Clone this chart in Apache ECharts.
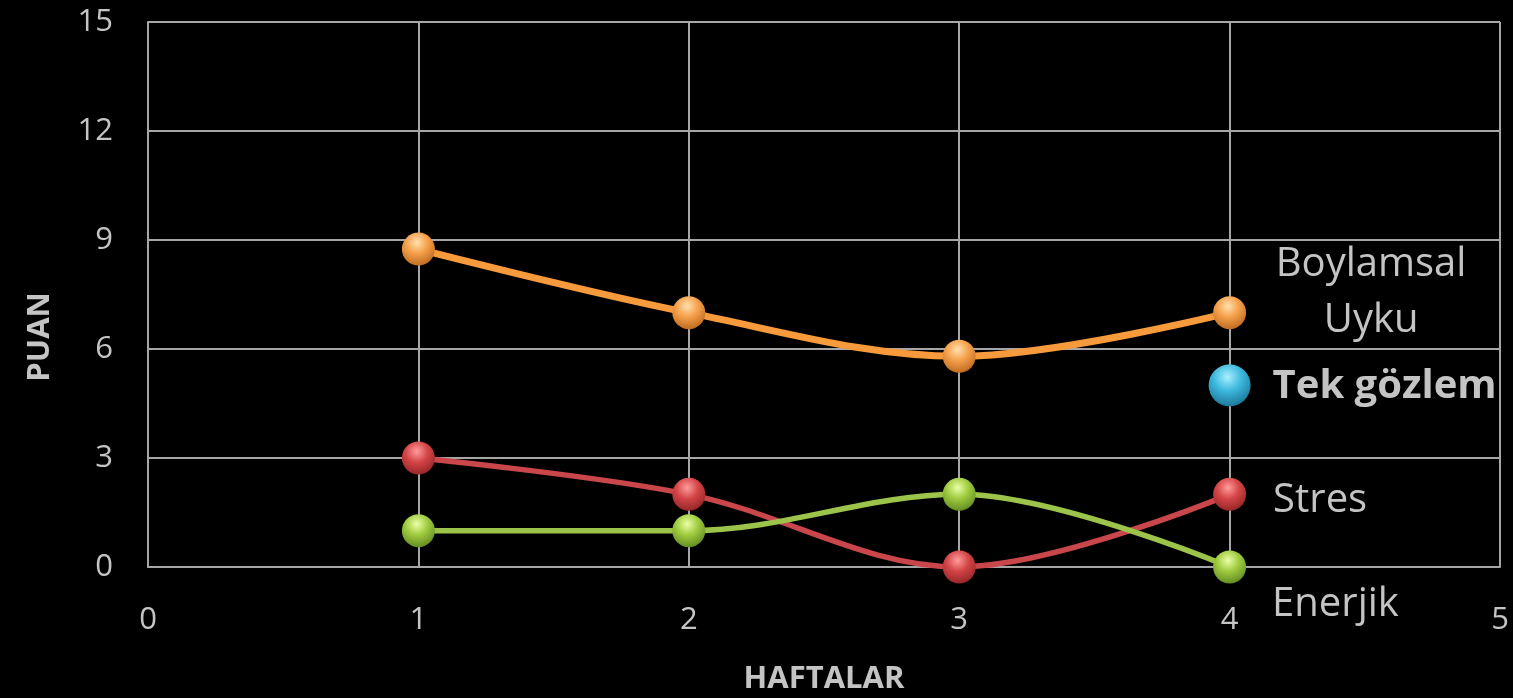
<!DOCTYPE html>
<html>
<head>
<meta charset="utf-8">
<script src="https://cdn.jsdelivr.net/npm/echarts@6/dist/echarts.min.js"></script>
<style>
html,body{margin:0;padding:0;background:#000;}
#c{width:1513px;height:698px;}
</style>
</head>
<body>
<div id="c"></div>
<script>
const weeks = [1, 2, 3, 4];
const uyku = [8.75, 7, 5.8, 7];
const stres = [3, 2, 0, 2];
const enerjik = [1, 1, 2, 0];
const tekGozlemWeek = [4];
const tekGozlem = [5];
const xTicks = [0, 1, 2, 3, 4, 5];
const yTicks = [0, 3, 6, 9, 12, 15];
const names = { uyku: 'Boylamsal\nUyku', tek: 'Tek gözlem', stres: 'Stres', enerjik: 'Enerjik' };

function sphere(light, base, dark) {
  return {
    type: 'radial', x: 0.45, y: 0.3, r: 0.75,
    colorStops: [
      { offset: 0, color: light },
      { offset: 0.45, color: base },
      { offset: 1, color: dark }
    ]
  };
}
function pairs(xs, ys) { return xs.map((x, i) => [x, ys[i]]); }

const FONT = '"Open Sans", "DejaVu Sans", sans-serif';
const TXT = '#c4c4c4';
const GRIDC = '#a6a6a6';

function lastLabel(text, opts, bold) {
  return Object.assign({
    show: true,
    formatter: text,
    color: TXT,
    fontFamily: FONT,
    fontSize: 40,
    fontWeight: bold ? 'bold' : 'normal'
  }, opts);
}

function lineSeries(name, data, color, sphereCols, width, label) {
  return {
    name: name,
    type: 'line',
    smooth: 0.35,
    data: pairs(weeks, data).map((p, i) => i === data.length - 1 ? { value: p, label: label } : p),
    symbol: 'circle',
    symbolSize: 33,
    lineStyle: { color: color, width: width },
    itemStyle: { color: sphereCols },
    label: { show: false },
    z: 3
  };
}

const chart = echarts.init(document.getElementById('c'));
chart.setOption({
  backgroundColor: '#000',
  animation: false,
  grid: { left: 148, right: 13, top: 22, bottom: 131, containLabel: false, outerBoundsMode: 'none' },
  xAxis: {
    type: 'value', min: 0, max: 5, interval: 1,
    name: 'HAFTALAR', nameLocation: 'middle', nameGap: 97,
    nameTextStyle: { color: TXT, fontFamily: FONT, fontSize: 31, fontWeight: 'bold' },
    axisLine: { show: true, lineStyle: { color: GRIDC, width: 2 } },
    axisTick: { show: false },
    axisLabel: { color: TXT, fontFamily: FONT, fontSize: 31, margin: 38,
      formatter: v => xTicks.includes(v) ? String(v) : '' },
    splitLine: { show: true, lineStyle: { color: GRIDC, width: 2 } }
  },
  yAxis: {
    type: 'value', min: 0, max: 15, interval: 3,
    axisLine: { show: true, lineStyle: { color: GRIDC, width: 2 } },
    axisTick: { show: false },
    axisLabel: { color: TXT, fontFamily: FONT, fontSize: 31, margin: 35,
      formatter: v => yTicks.includes(v) ? String(v) : '' },
    splitLine: { show: true, lineStyle: { color: GRIDC, width: 2 } }
  },
  graphic: [{
    type: 'text', x: 40, y: 337, rotation: Math.PI / 2,
    style: { text: 'PUAN', fill: TXT, font: 'bold 31px ' + FONT, textAlign: 'center', textVerticalAlign: 'middle' }
  }],
  series: [
    lineSeries('Uyku', uyku, '#f79a3c', sphere('#ffe0b0', '#f5a04a', '#b8651c'), 7,
      lastLabel(names.uyku, { position: [158, -4], align: 'center', verticalAlign: 'middle', lineHeight: 56 })),
    lineSeries('Stres', stres, '#c9474a', sphere('#ff9c9c', '#d44547', '#8e2224'), 5.5,
      lastLabel(names.stres, { position: 'right', distance: 27, offset: [0, 6] })),
    lineSeries('Enerjik', enerjik, '#9cc34a', sphere('#eaffa8', '#9fcb3e', '#5d8520'), 5.5,
      lastLabel(names.enerjik, { position: 'right', distance: 26, offset: [0, 38] })),
    {
      name: 'Tek gözlem',
      type: 'line',
      data: pairs(tekGozlemWeek, tekGozlem),
      symbol: 'circle',
      symbolSize: 42,
      itemStyle: { color: sphere('#a8f0ff', '#3cb8dd', '#1a6f8f') },
      label: lastLabel(names.tek, { position: 'right', distance: 22, offset: [0, 1] }, true),
      z: 3
    }
  ]
});
</script>
</body>
</html>
